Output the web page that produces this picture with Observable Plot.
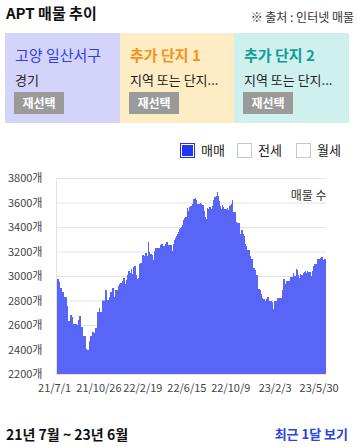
<!DOCTYPE html>
<html>
<head>
<meta charset="utf-8">
<script src="https://cdn.jsdelivr.net/npm/d3@7"></script>
<script src="https://cdn.jsdelivr.net/npm/@observablehq/plot@0.6"></script>
<style>
  html, body { margin: 0; padding: 0; background: #fff; }
  body { font-family: "Noto Sans CJK KR", "Noto Sans", sans-serif; }
  #wrap { position: relative; width: 358px; height: 447px; overflow: hidden; }
  .abs { position: absolute; white-space: nowrap; line-height: 1; }
  .box { position: absolute; top: 33px; height: 90px; }
  .btitle { position: absolute; left: 10px; top: 47px; font-size: 15px; }
  .bsub { position: absolute; left: 10px; top: 72px; font-size: 13px; color: #222; }
  .btn { position: absolute; left: 9px; top: 59px; width: 50px; height: 22px; background: #9a9a9a; color: #fff;
         font-size: 12px; font-weight: bold; text-align: center; line-height: 22px; }
  .chk { position: absolute; top: 143px; width: 13px; height: 13px; border: 1px solid #c6c6d0; background: #fff; box-sizing: content-box; }
  .lg { position: absolute; top: 143px; font-size: 13px; color: #222; line-height: 1; }
  #chart { position: absolute; left: 0; top: 165px; }
</style>
</head>
<body>
<div id="wrap">
  <div class="abs" style="left:6px; top:5px; font-size:15px; font-weight:bold; color:#111;">APT 매물 추이</div>
  <div class="abs" style="right:4px; top:11px; font-size:12px; color:#333;">※ 출처 : 인터넷 매물</div>
  <div id="boxes"></div>
  <div id="legend"></div>
  <div id="chart"></div>
  <div class="abs" style="left:6px; top:427px; font-size:14px; font-weight:bold; color:#111;">21년 7월 ~ 23년 6월</div>
  <div class="abs" style="right:10px; top:427px; font-size:13px; font-weight:bold; color:#2a44e0;">최근 1달 보기</div>
</div>
<script>
// ---- data ----
const boxTitles = ["고양 일산서구", "추가 단지 1", "추가 단지 2"];
const boxSubs = ["경기", "지역 또는 단지...", "지역 또는 단지..."];
const boxButton = "재선택";
const legendLabels = ["매매", "전세", "월세"];

const yTicks = [2200, 2400, 2600, 2800, 3000, 3200, 3400, 3600, 3800];
const xTickLabels = ["21/7/1", "21/10/26", "22/2/19", "22/6/15", "22/10/9", "23/2/3", "23/5/30"];

// listing count, one reading every ~2.64 days from 2021-07-06
const values = [
3024,2976,2976,2954,2902,2902,2869,2869,2829,2829,
2829,2755,2633,2633,2682,2682,2665,2608,2608,2608,
2608,2600,2641,2674,2674,2584,2584,2510,2510,2510,
2404,2396,2396,2469,2510,2510,2543,2543,2535,2576,
2576,2706,2706,2739,2706,2706,2800,2800,2800,2886,
2886,2804,2804,2829,2869,2869,2902,2902,2829,2886,
2886,2886,2918,2935,2943,2943,2959,2984,2984,2935,
2967,3008,3041,3041,3024,3057,3016,3073,3082,3082,
3008,2976,2984,3098,3106,3106,3171,3171,3163,3188,
3188,3163,3278,3196,3180,3180,3171,3131,3204,3229,
3229,3229,3229,3229,3253,3261,3261,3245,3245,3261,
3278,3278,3253,3253,3253,3253,3204,3261,3294,3310,
3327,3343,3359,3384,3392,3400,3416,3457,3473,3482,
3482,3555,3531,3563,3571,3571,3588,3629,3629,3637,
3620,3588,3588,3588,3596,3588,3580,3580,3531,3482,
3465,3555,3547,3563,3563,3547,3571,3620,3645,3645,
3653,3686,3653,3612,3571,3547,3580,3563,3547,3547,
3547,3555,3539,3571,3580,3588,3620,3522,3522,3522,
3441,3433,3433,3433,3343,3376,3376,3343,3327,3261,
3245,3212,3212,3212,3163,3139,3139,3065,3065,3049,
3008,3008,2894,2894,2886,2853,2820,2812,2812,2796,
2812,2829,2829,2796,2796,2796,2788,2731,2796,2796,
2796,2820,2820,2820,2820,2820,2886,2976,2976,2935,
2959,2959,2959,2959,2992,2992,2992,3024,3000,3000,
3057,3049,3008,2984,3016,3008,3008,3024,3033,3041,
3024,3041,3033,3033,3033,3000,3041,3082,3098,3098,
3098,3139,3139,3139,3147,3155,3155,3131,3139,3139
];

const startDate = new Date(2021, 6, 6);
const stepDays = 2.639;
const DAY = 864e5;
const data = values.map((v, i) => ({date: new Date(startDate.getTime() + i * stepDays * DAY), value: v}));
const endDate = new Date(startDate.getTime() + values.length * stepDays * DAY);
data.push({date: endDate, value: values[values.length - 1]});

const parseTick = s => { const [y, m, d] = s.split("/").map(Number); return new Date(2000 + y, m - 1, d); };
const xTicks = xTickLabels.map(parseTick);

// ---- header boxes ----
const boxColors = ["#d4d4fa", "#feecc4", "#d0f0ee"];
const titleColors = ["#2f3ff0", "#f7911c", "#109e96"];
const titleWeights = ["normal", "bold", "bold"];
const boxLefts = [5, 120, 234];
const boxWidths = [115, 114, 115];
const boxesEl = document.getElementById("boxes");
boxTitles.forEach((t, i) => {
  const b = document.createElement("div");
  b.className = "box";
  b.style.left = boxLefts[i] + "px";
  b.style.width = boxWidths[i] + "px";
  b.style.background = boxColors[i];
  b.innerHTML = `<div class="btitle abs" style="top:14px;color:${titleColors[i]};font-weight:${titleWeights[i]}">${t}</div>
    <div class="bsub abs" style="top:40px">${boxSubs[i]}</div>
    <div class="btn">${boxButton}</div>`;
  boxesEl.appendChild(b);
});

// ---- legend ----
const legendEl = document.getElementById("legend");
const chkLefts = [180, 237, 296];
const lblLefts = [201, 258, 317];
legendLabels.forEach((l, i) => {
  const c = document.createElement("div");
  c.className = "chk";
  c.style.left = chkLefts[i] + "px";
  if (i === 0) {
    c.style.border = "1px solid #1d30f0";
    c.style.background = "#2236f6";
    c.style.boxShadow = "inset 0 0 0 1px #fff";
  }
  legendEl.appendChild(c);
  const t = document.createElement("div");
  t.className = "lg";
  t.style.left = lblLefts[i] + "px";
  t.textContent = l;
  legendEl.appendChild(t);
});

// ---- chart ----
const chart = Plot.plot({
  width: 358,
  height: 235,
  marginTop: 13,
  marginBottom: 26,
  marginLeft: 56,
  marginRight: 32,
  style: {fontFamily: "'Noto Sans CJK KR', sans-serif", fontSize: "11px", color: "#444", background: "transparent"},
  x: {type: "time", domain: [startDate, endDate]},
  y: {domain: [2200, 3800]},
  marks: [
    Plot.gridY(yTicks, {stroke: "#e4e4e4", strokeOpacity: 1}),
    Plot.areaY(data, {x: "date", y1: () => 2200, y2: "value", curve: "step-after", fill: "#5865f7"}),
    Plot.ruleX([startDate], {stroke: "#e2e2e2"}),
    Plot.axisY(yTicks, {tickSize: 0, tickPadding: 14, tickFormat: d => d + "개", label: null}),
    Plot.axisX(xTicks, {tickSize: 0, tickPadding: 10, label: null,
      tickFormat: d => `${d.getFullYear() % 100}/${d.getMonth() + 1}/${d.getDate()}`}),
    Plot.text(["매물 수"], {frameAnchor: "top-right", dy: 13, fontSize: 12, fill: "#333", textAnchor: "end"})
  ]
});
document.getElementById("chart").appendChild(chart);
</script>
</body>
</html>
